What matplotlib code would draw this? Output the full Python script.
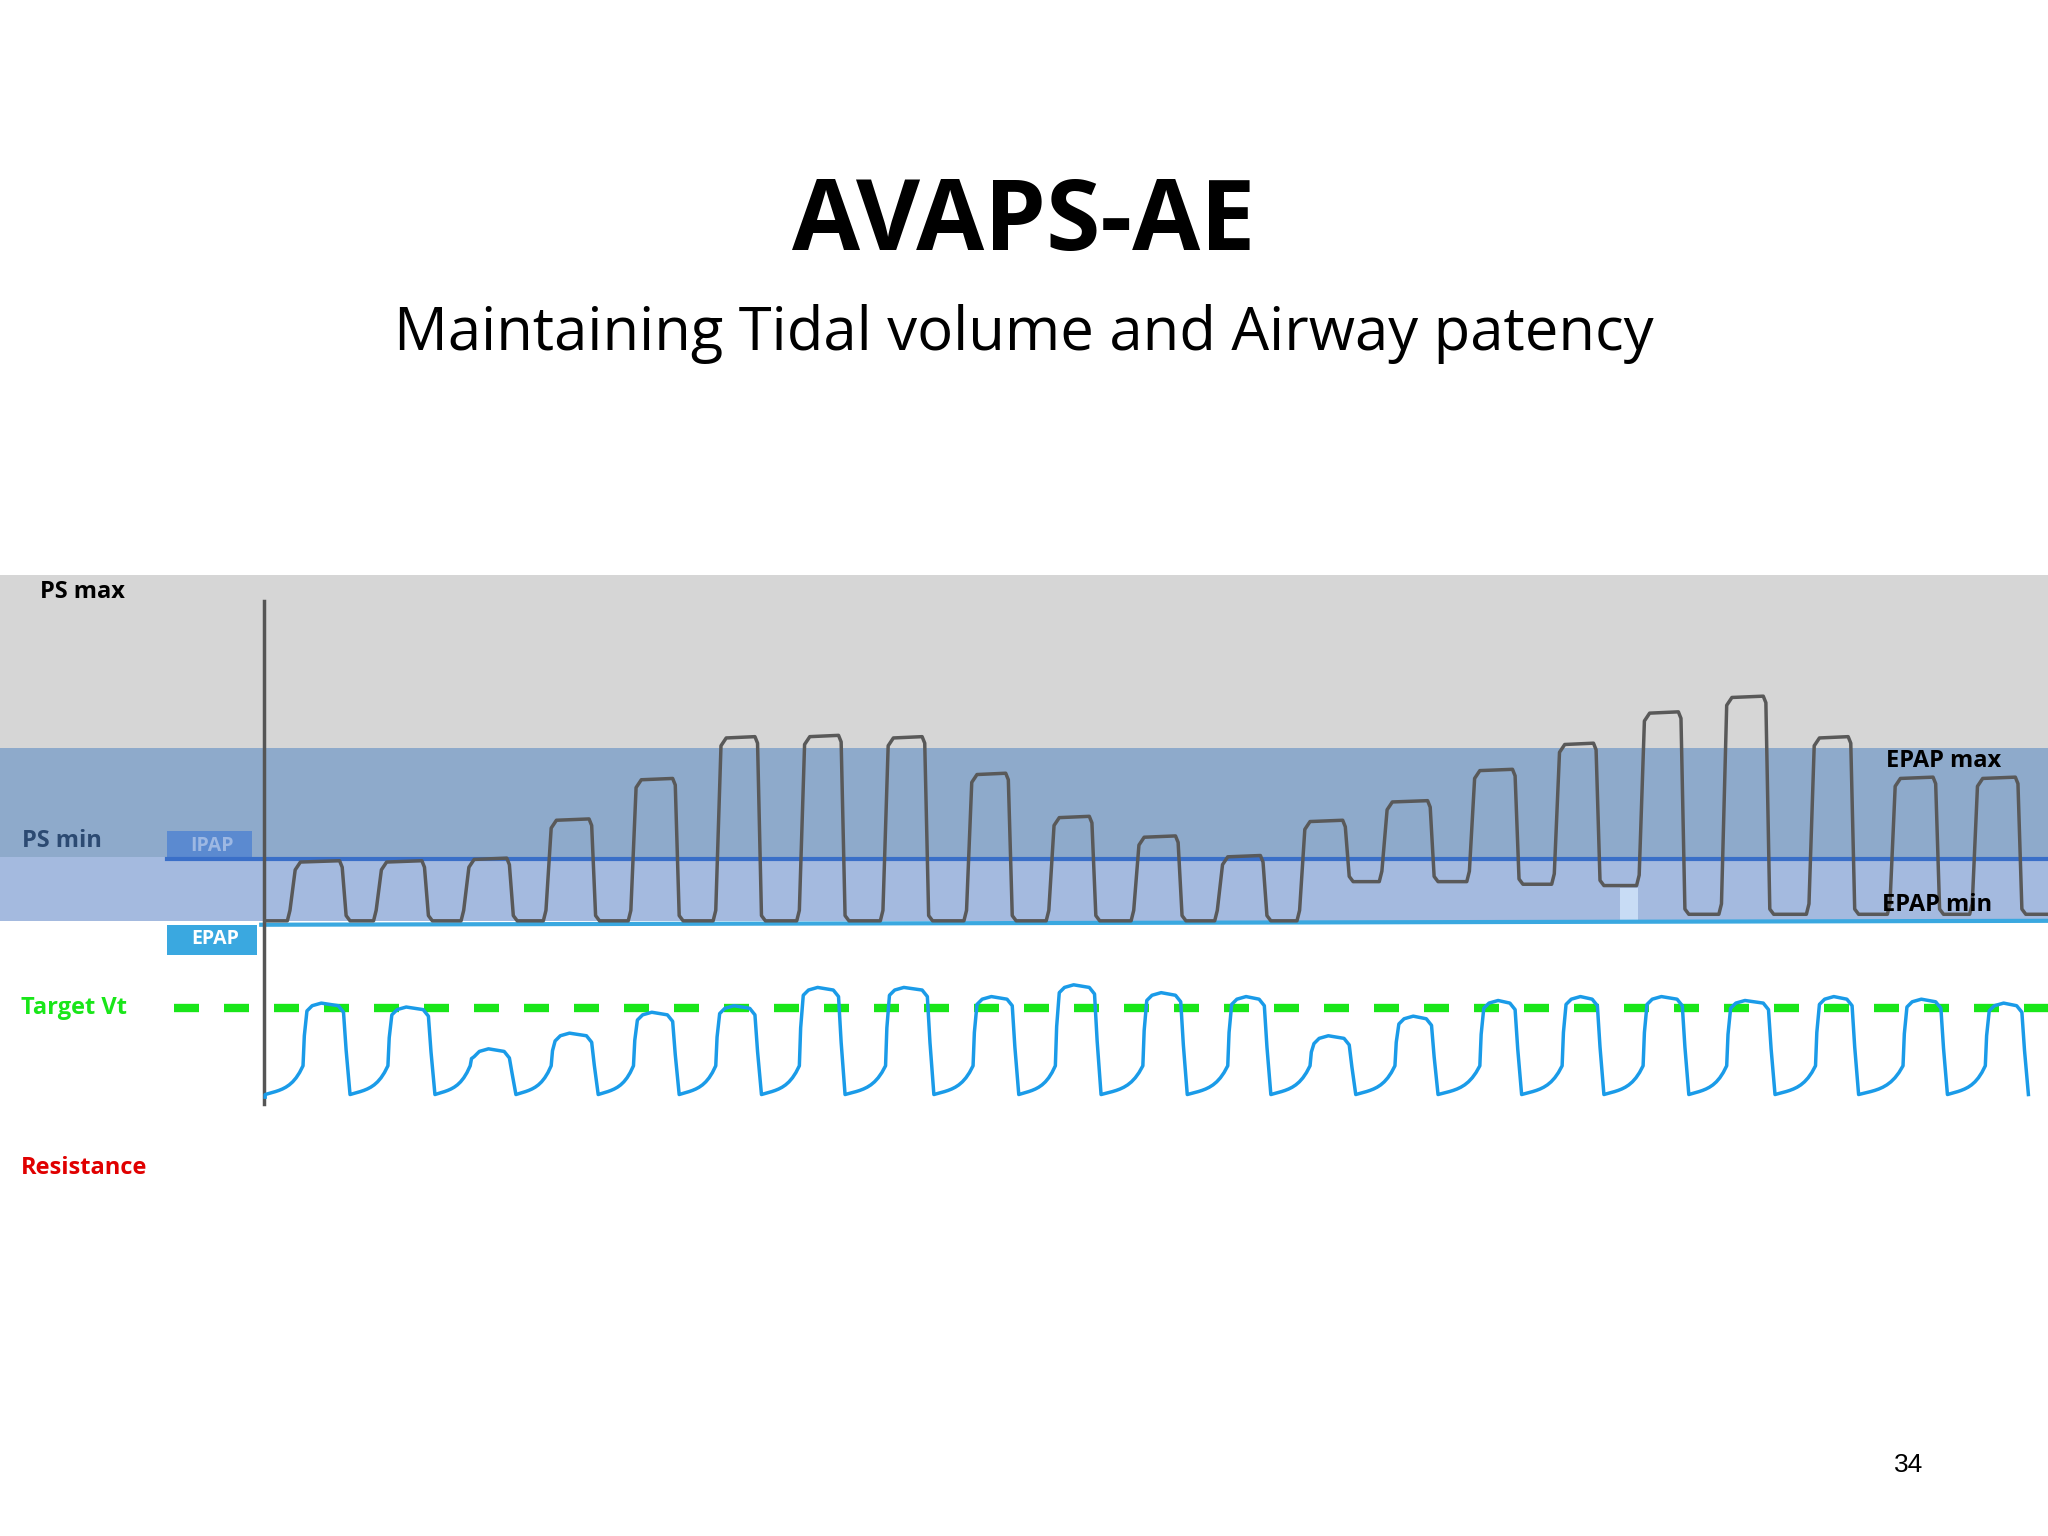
import numpy as np
import matplotlib.pyplot as plt

# canvas units: 1568 x 1176 (screen layout), y down
W, H = 1568, 1176

# pressure breaths: start x, end x, top y, floor after breath
p_start = [222, 288, 355, 418, 483, 548, 612, 676, 740, 803, 868, 932, 995, 1058, 1125, 1190, 1255, 1318, 1385, 1447, 1510]
p_end = [262, 325, 390, 453, 517, 580, 644, 708, 772, 836, 902, 967, 1030, 1095, 1160, 1222, 1287, 1352, 1417, 1482, 1545]
p_top = [660, 660, 658, 628, 597, 565, 564, 565, 593, 626, 641, 656, 629, 614, 590, 570, 546, 534, 565, 596, 596]
p_floor = [705, 705, 705, 705, 705, 705, 705, 705, 705, 705, 705, 705, 675, 675, 677, 678, 700, 700, 700, 700, 700]

# volume breaths
v_start = [232, 297, 360, 422, 485, 548, 612, 678, 745, 808, 875, 940, 1003, 1068, 1133, 1196, 1258, 1322, 1390, 1457, 1520]
v_end = [265, 330, 392, 455, 517, 580, 644, 712, 777, 840, 906, 970, 1035, 1098, 1162, 1225, 1290, 1356, 1420, 1488, 1550]
v_top = [770, 773, 805, 793, 777, 772, 758, 758, 765, 756, 762, 765, 795, 780, 768, 765, 765, 768, 765, 767, 770]

fig = plt.figure(figsize=(20.48, 15.36), dpi=100)
ax = fig.add_axes([0, 0, 1, 1])
ax.set_xlim(0, W)
ax.set_ylim(H, 0)
ax.axis("off")

fig.text(0.5, 1 - 172 / H, "AVAPS-AE", ha="center", va="center", fontsize=71, fontweight="bold", family="Open Sans")
fig.text(0.5, 1 - 256 / H, "Maintaining Tidal volume and Airway patency", ha="center", va="center", fontsize=43, family="Open Sans")
fig.text(1461 / W, 1 - 1122 / H, "34", ha="center", va="center", fontsize=19, family="Liberation Sans")

# bands
ax.fill_between([0, W], 440, 573, color="#d6d6d6", lw=0)
ax.fill_between([0, W], 573, 705, color="#8eaacb", lw=0)
ax.fill_between([0, W], 656, 705, color="#a4badf", lw=0)
ax.plot([128, W], [658, 658], color="#3a6fc8", lw=3)
ax.plot([200, W], [708, 705], color="#3aa8e0", lw=3)
ax.add_patch(plt.Rectangle((128, 636), 65, 23, color="#5b8ad0", lw=0))
ax.text(162, 648, "IPAP", ha="center", va="center", color="#9db8e3", fontsize=14, fontweight="bold", family="Open Sans")
ax.add_patch(plt.Rectangle((128, 708), 69, 23, color="#3aa8e0", lw=0))
ax.text(165, 719, "EPAP", ha="center", va="center", color="white", fontsize=14, fontweight="bold", family="Open Sans")
ax.add_patch(plt.Rectangle((1240, 680), 14, 24, color="#c8dcf5", lw=0))
ax.plot([202, 202], [460, 845], color="#555555", lw=2.5)
ax.plot([133, W], [772, 772], color="#19e619", lw=6, dashes=(3, 3))

lab = dict(va="center", fontsize=17, fontweight="bold", family="Open Sans")
ax.text(31, 453, "PS max", **lab)
ax.text(17, 644, "PS min", color="#2c4a72", **lab)
ax.text(16, 772, "Target Vt", color="#19e619", **lab)
ax.text(16, 894, "Resistance", color="#e00000", **lab)
ax.text(1444, 583, "EPAP max", **lab)
ax.text(1441, 693, "EPAP min", **lab)

# pressure trace
px, py = [203], [705]
for i, (s, e, t, f) in enumerate(zip(p_start, p_end, p_top, p_floor)):
    prev = 705 if i == 0 else p_floor[i - 1]
    px += [s - 2, s, s + 4, s + 8, e - 2, e, e + 3, e + 6]
    py += [prev, prev - 8, t + 6, t, t - 1, t + 4, f - 4, f]
px.append(W)
py.append(700)
ax.plot(px, py, color="#595959", lw=2.5, solid_joinstyle="round")

# volume trace
vx, vy = [203], [840]
for i, (s, e, t) in enumerate(zip(v_start, v_end, v_top)):
    prev_e = 203 if i == 0 else v_end[i - 1] + 3
    xs = np.linspace(prev_e, s, 12)
    frac = (xs - prev_e) / max(s - prev_e, 1)
    vx += list(xs)
    vy += list(838 - 8 * frac - 14 * frac ** 4)
    vx += [s + 1, s + 3, s + 7, s + 14, e - 6, e - 2, e, e + 3]
    vy += [(816 + t) / 2, t + 4, t, t - 2, t, t + 5, (t + 838) / 2, 838]
ax.plot(vx, vy, color="#1a9be8", lw=2.5, solid_joinstyle="round")

fig.savefig("out.png", dpi=100)
